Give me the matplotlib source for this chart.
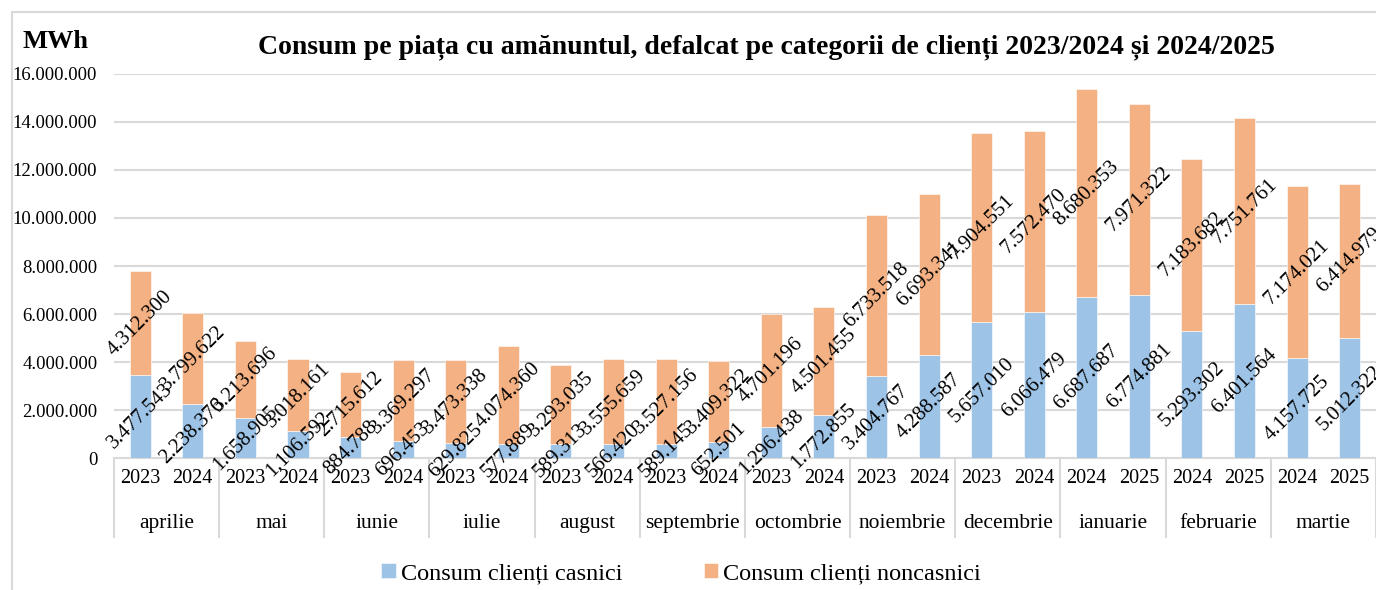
import matplotlib.pyplot as plt
from matplotlib.patches import Rectangle
from matplotlib.transforms import blended_transform_factory

plt.rcParams['font.family'] = ['Liberation Serif', 'DejaVu Serif']

months = ["aprilie", "mai", "iunie", "iulie", "august", "septembrie",
          "octombrie", "noiembrie", "decembrie", "ianuarie", "februarie", "martie"]
years = ["2023", "2024"] * 9 + ["2024", "2025"] * 3

casnici = [3477543, 2238376, 1658905, 1106592, 884788, 696453,
           629825, 577889, 589313, 566420, 589145, 652501,
           1296438, 1772855, 3404767, 4288587, 5657010, 6066479,
           6687687, 6774881, 5293302, 6401564, 4157725, 5012322]
noncasnici = [4312300, 3799622, 3213696, 3018161, 2715612, 3369297,
              3473338, 4074360, 3293035, 3555659, 3527156, 3409322,
              4701196, 4501455, 6733518, 6693341, 7904551, 7572470,
              8680353, 7971322, 7183682, 7751761, 7174021, 6414979]

c_blue = "#9DC3E6"
c_orange = "#F4B183"
grid_c = "#D9D9D9"


def fmt(v):
    return f"{v:,}".replace(",", ".")


fig = plt.figure(figsize=(13.76, 5.90), dpi=100)
ax = fig.add_axes([0.0828, 0.2237, 1.0 - 0.0828, 0.6509])

x = list(range(len(casnici)))
ax.bar(x, casnici, width=0.4, color=c_blue, edgecolor="white", linewidth=0.4,
       label="Consum clienți casnici", zorder=3)
ax.bar(x, noncasnici, width=0.4, bottom=casnici, color=c_orange, edgecolor="white",
       linewidth=0.4, label="Consum clienți noncasnici", zorder=3)

for i in x:
    ax.text(i, casnici[i] / 2, fmt(casnici[i]), rotation=45, ha="center", va="center",
            rotation_mode="anchor", fontsize=15, zorder=5)
    ax.text(i, casnici[i] + noncasnici[i] / 2, fmt(noncasnici[i]), rotation=45,
            ha="center", va="center", rotation_mode="anchor", fontsize=15, zorder=5)

ax.set_xlim(-0.5, len(x) - 0.5)
ax.set_ylim(0, 16e6)
ax.set_yticks(range(0, 16000001, 2000000))
ax.set_yticklabels([fmt(v) for v in range(0, 16000001, 2000000)], fontsize=13.5)
ax.tick_params(axis="y", length=0, pad=12)
ax.yaxis.grid(True, color=grid_c, linewidth=1.5, zorder=0)
for s in ["top", "right", "left"]:
    ax.spines[s].set_visible(False)
ax.spines["bottom"].set_color(grid_c)
ax.spines["bottom"].set_linewidth(1.5)

ax.set_xticks(x)
ax.set_xticklabels(years, fontsize=14.5)
ax.tick_params(axis="x", length=0, pad=8)

trans = blended_transform_factory(ax.transData, ax.transAxes)
for m, name in enumerate(months):
    ax.text(2 * m + 0.5, -0.17, name, transform=trans, ha="center", va="center",
            fontsize=15.5)
for b in range(len(months) + 1):
    ax.plot([2 * b - 0.5, 2 * b - 0.5], [0, -0.206], transform=trans,
            color=grid_c, linewidth=1.5, clip_on=False)

fig.text(0.016, 0.929, "MWh", fontsize=19, fontweight="bold", va="center", ha="left")
fig.text(0.557, 0.92, "Consum pe piața cu amănuntul, defalcat pe categorii de clienți 2023/2024 și 2024/2025",
         fontsize=20, fontweight="bold", ha="center", va="center")

fig.legend(loc="center", bbox_to_anchor=(0.495, 0.028), ncol=2, frameon=False,
           fontsize=17.5, handlelength=0.6, handleheight=0.6, handletextpad=0.2,
           columnspacing=3.35)

fig.patches.append(Rectangle((12 / 1376, -0.1), 1.2, (590 - 12) / 590 + 0.1,
                             transform=fig.transFigure, fill=False,
                             edgecolor=grid_c, linewidth=1.5))

fig.savefig("out.png", dpi=100)
